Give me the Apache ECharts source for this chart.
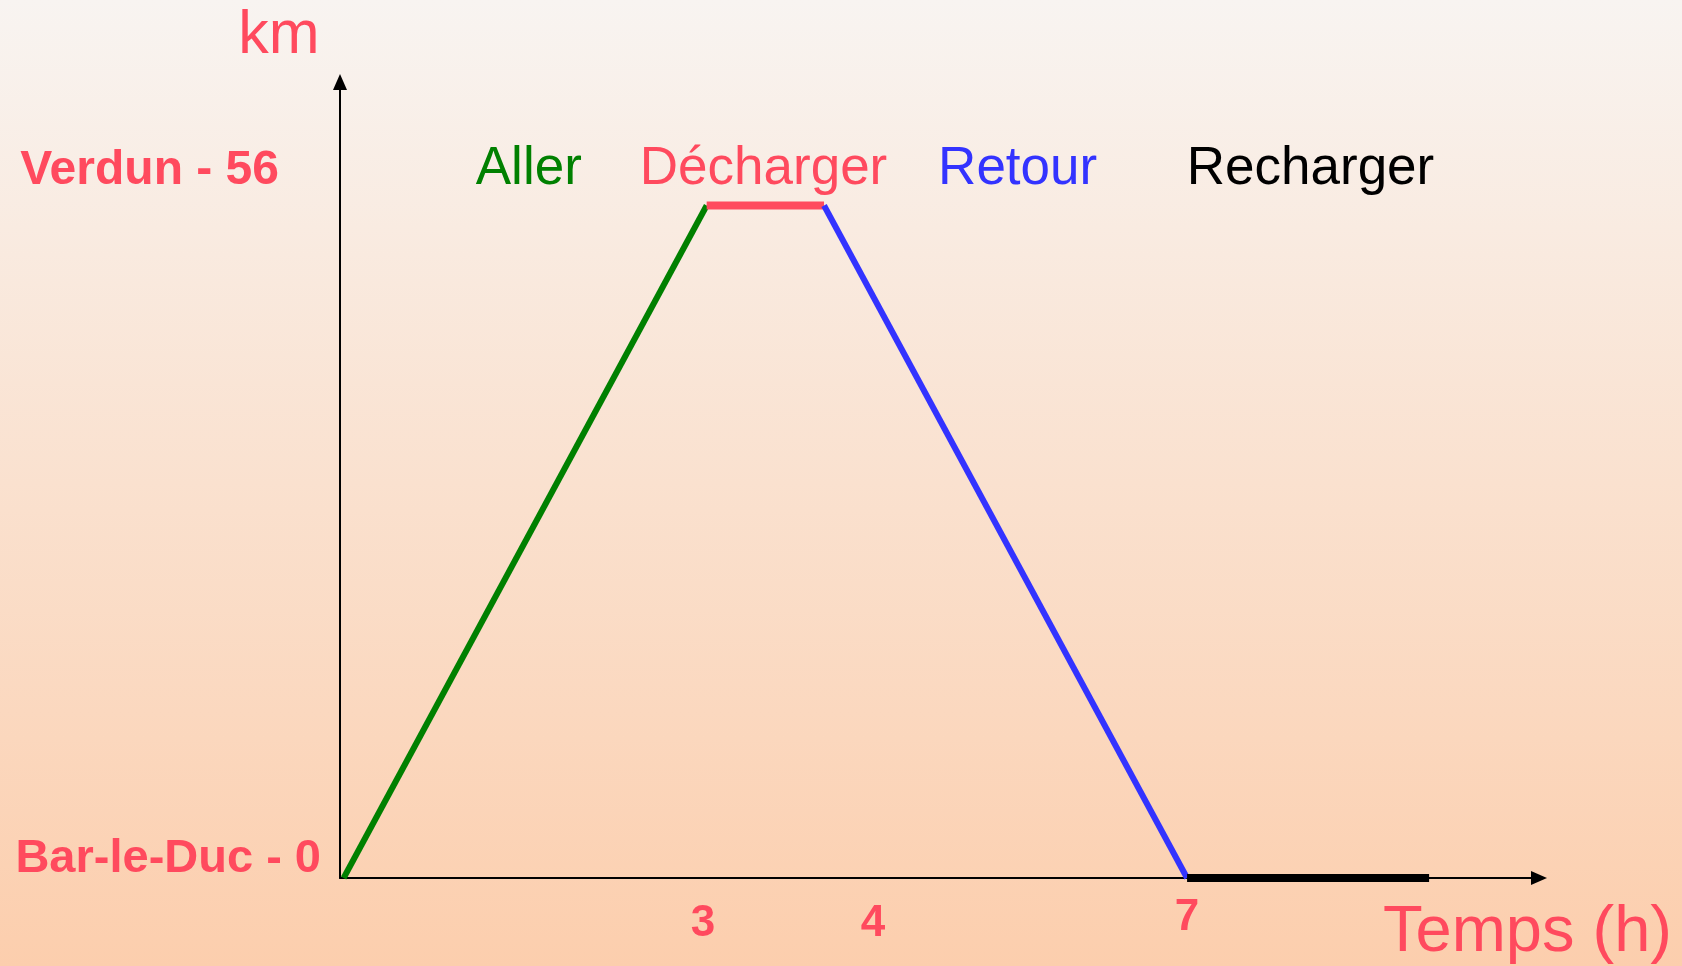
<!doctype html>
<html>
    <head>
        <meta charset="utf-8">
        <style>
            html, body { margin: 0; padding: 0; }
            #main { width: 1682px; height: 966px; }
        </style>
    </head>
    <body>
        <div id="main"></div>
        <script src="https://cdn.jsdelivr.net/npm/echarts@6/dist/echarts.min.js"></script>
        <script>
            // phases of the truck trip Bar-le-Duc -> Verdun -> Bar-le-Duc
            var phases = ['Aller', 'Décharger', 'Retour', 'Recharger'];
            var phaseHours = [[0.03, 3.03], [3.03, 4], [4, 7], [7, 9]];
            var phaseKm = [[0, 56], [56, 56], [56, 0], [0, 0]];
            var phaseColors = ['#008000', '#ff4a5e', '#3333ff', '#000000'];
            var phaseWidths = [6, 8, 6, 8];
            // where the phase names sit (hours, km)
            var labelHours = [1.56, 3.5, 5.6, 8.02];
            var labelKm = 59;
            // axis ticks
            var hourTicks = [3, 4, 7];
            var kmTicks = [0, 56];
            var kmNames = { 0: 'Bar-le-Duc', 56: 'Verdun' };

            var red = '#ff4a5e';
            var font = '"Liberation Sans", Arial, sans-serif';

            var chart = echarts.init(document.getElementById('main'));

            var series = phases.map(function (name, i) {
                return {
                    type: 'line',
                    name: name,
                    showSymbol: false,
                    silent: true,
                    z: 5,
                    data: [
                        [phaseHours[i][0], phaseKm[i][0]],
                        [phaseHours[i][1], phaseKm[i][1]]
                    ],
                    lineStyle: { color: phaseColors[i], width: phaseWidths[i], cap: 'butt' },
                    markPoint: {
                        symbol: 'circle',
                        symbolSize: 0,
                        data: [{ coord: [labelHours[i], labelKm], value: name }],
                        label: {
                            show: true,
                            position: 'inside',
                            formatter: name,
                            color: phaseColors[i],
                            fontFamily: font,
                            fontSize: 53
                        }
                    }
                };
            });

            chart.setOption({
                animation: false,
                backgroundColor: {
                    type: 'linear', x: 0, y: 0, x2: 0, y2: 1,
                    colorStops: [
                        { offset: 0, color: '#f8f4f1' },
                        { offset: 1, color: '#fccead' }
                    ]
                },
                grid: { left: 340, right: 144, top: 83, bottom: 86 },
                xAxis: {
                    type: 'value',
                    min: 0,
                    max: 9.9,
                    name: 'Temps (h)',
                    nameLocation: 'end',
                    nameGap: 134,
                    nameMoveOverlap: false,
                    nameTextStyle: {
                        color: red, fontFamily: font, fontSize: 65,
                        align: 'right', verticalAlign: 'top',
                        padding: [23, 0, 0, 0]
                    },
                    axisLine: {
                        lineStyle: { color: '#000', width: 2 },
                        symbol: ['none', 'triangle'],
                        symbolSize: [14, 16],
                        symbolOffset: [0, 1]
                    },
                    axisTick: { show: false },
                    splitLine: { show: false },
                    axisLabel: {
                        customValues: hourTicks,
                        margin: 18,
                        formatter: function (v) {
                            if (v === 4) return '{s|' + v + '}';
                            if (v === 7) return '{u|' + v + '}';
                            return '{n|' + v + '}';
                        },
                        rich: {
                            n: { color: red, fontFamily: font, fontWeight: 'bold', fontSize: 44, padding: [6, 0, 0, 0] },
                            s: { color: red, fontFamily: font, fontWeight: 'bold', fontSize: 44, padding: [6, 0, 0, 98] },
                            u: { color: red, fontFamily: font, fontWeight: 'bold', fontSize: 44 }
                        }
                    }
                },
                yAxis: {
                    type: 'value',
                    min: 0,
                    max: 66.2,
                    name: 'km',
                    nameLocation: 'end',
                    nameGap: 47,
                    nameTextStyle: {
                        color: red, fontFamily: font, fontSize: 61,
                        align: 'center', verticalAlign: 'middle',
                        padding: [0, 122, 0, 0]
                    },
                    axisLine: {
                        lineStyle: { color: '#000', width: 2 },
                        symbol: ['none', 'triangle'],
                        symbolSize: [14, 16],
                        symbolOffset: [0, 1]
                    },
                    axisTick: { show: false },
                    splitLine: { show: false },
                    axisLabel: {
                        customValues: kmTicks,
                        margin: 19,
                        formatter: function (v) {
                            return '{' + (v === 0 ? 'b' : 't') + '|' + kmNames[v] + ' - ' + v + '}';
                        },
                        rich: {
                            b: { color: red, fontFamily: font, fontWeight: 'bold', fontSize: 47, padding: [0, 0, 38, 0] },
                            t: { color: red, fontFamily: font, fontWeight: 'bold', fontSize: 48, padding: [0, 42, 70, 0] }
                        }
                    }
                },
                series: series
            });

            window.onresize = chart.resize;
        </script>
    </body>
</html>
